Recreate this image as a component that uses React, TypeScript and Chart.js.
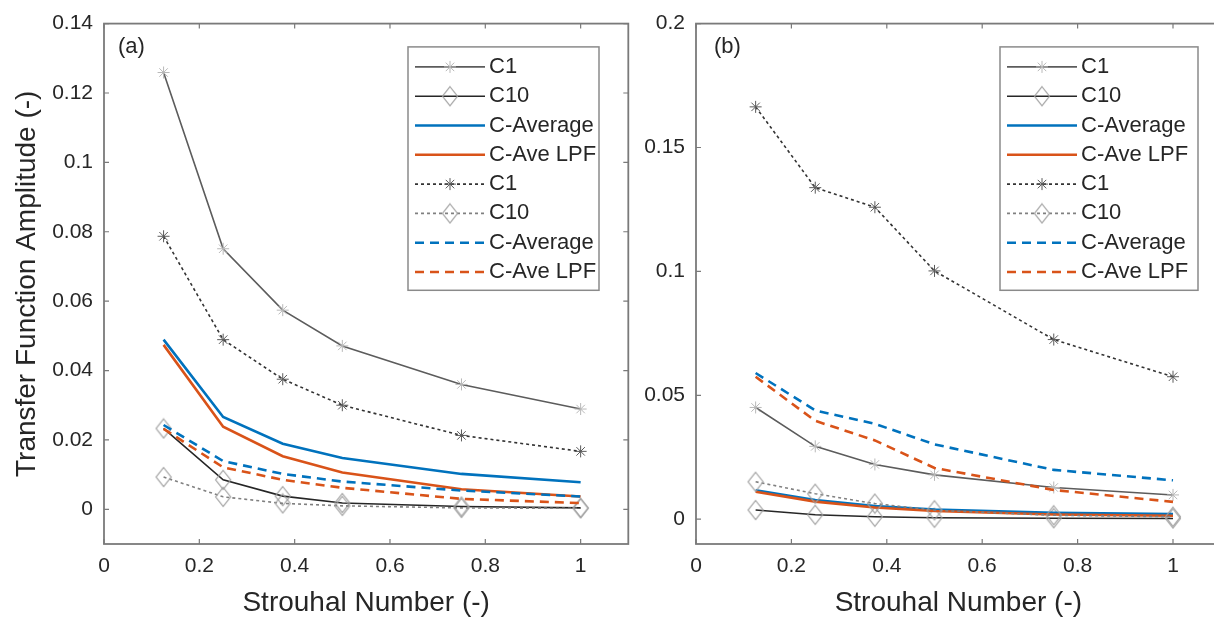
import React, { useEffect, useRef } from 'react';
import { Chart, registerables } from 'chart.js';

Chart.register(...registerables);

// ---------- data ----------
const strouhal = [0.125, 0.25, 0.375, 0.5, 0.75, 1.0];
const seriesLabels = ['C1', 'C10', 'C-Average', 'C-Ave LPF', 'C1', 'C10', 'C-Average', 'C-Ave LPF'];

const xTickValues = [0, 0.2, 0.4, 0.6, 0.8, 1];
const xTickLabels = ['0', '0.2', '0.4', '0.6', '0.8', '1'];
const yTickValuesA = [0, 0.02, 0.04, 0.06, 0.08, 0.1, 0.12, 0.14];
const yTickLabelsA = ['0', '0.02', '0.04', '0.06', '0.08', '0.1', '0.12', '0.14'];
const yTickValuesB = [0, 0.05, 0.1, 0.15, 0.2];
const yTickLabelsB = ['0', '0.05', '0.1', '0.15', '0.2'];

// panel (a)
const aC1Solid = [0.1259, 0.0751, 0.0574, 0.0471, 0.0360, 0.0289];
const aC10Solid = [0.0233, 0.0085, 0.0038, 0.0018, 0.0008, 0.0004];
const aAvgSolid = [0.0489, 0.0266, 0.0189, 0.0148, 0.0102, 0.0078];
const aLpfSolid = [0.0474, 0.0238, 0.0153, 0.0106, 0.0058, 0.0037];
const aC1Dot = [0.0787, 0.0489, 0.0375, 0.0300, 0.0213, 0.0167];
const aC10Dot = [0.0093, 0.0036, 0.0017, 0.0010, 0.0004, 0.0003];
const aAvgDash = [0.0243, 0.0139, 0.0102, 0.0080, 0.0054, 0.0037];
const aLpfDash = [0.0232, 0.0121, 0.0085, 0.0062, 0.0030, 0.0018];

// panel (b)
const bC1Solid = [0.0451, 0.0294, 0.0221, 0.0179, 0.0128, 0.0098];
const bC10Solid = [0.0037, 0.0018, 0.0010, 0.0006, 0.0004, 0.0003];
const bAvgSolid = [0.0117, 0.0077, 0.0053, 0.0039, 0.0026, 0.0021];
const bLpfSolid = [0.0111, 0.0071, 0.0047, 0.0033, 0.0019, 0.0014];
const bC1Dot = [0.1664, 0.1338, 0.1259, 0.1002, 0.0725, 0.0575];
const bC10Dot = [0.0151, 0.0103, 0.0063, 0.0036, 0.0016, 0.0010];
const bAvgDash = [0.0590, 0.0439, 0.0385, 0.0302, 0.0199, 0.0157];
const bLpfDash = [0.0575, 0.0397, 0.0318, 0.0207, 0.0118, 0.0070];

// ---------- styles ----------
const FONT = '"Liberation Sans", Arial, Helvetica, sans-serif';
const TEXT = '#262626';
const AXIS = '#7a7a7a';

type SeriesStyle = { color: string; width: number; dash: number[]; marker?: 'star' | 'diamond'; markerColor?: string };
const seriesStyles: SeriesStyle[] = [
  { color: '#5c5c5c', width: 1.6, dash: [], marker: 'star', markerColor: '#b8b8b8' },
  { color: '#262626', width: 1.6, dash: [], marker: 'diamond', markerColor: '#a5a5a5' },
  { color: '#0072BD', width: 2.6, dash: [] },
  { color: '#D95319', width: 2.6, dash: [] },
  { color: '#333333', width: 1.6, dash: [3, 3], marker: 'star', markerColor: '#5a5a5a' },
  { color: '#808080', width: 1.6, dash: [3, 3], marker: 'diamond', markerColor: '#a5a5a5' },
  { color: '#0072BD', width: 2.6, dash: [9, 6] },
  { color: '#D95319', width: 2.6, dash: [9, 6] },
];

function makeDiamond(color: string) {
  const c = document.createElement('canvas');
  c.width = 18;
  c.height = 22;
  const g = c.getContext('2d')!;
  g.strokeStyle = color;
  g.lineWidth = 1.2;
  g.beginPath();
  g.moveTo(9, 1.5);
  g.lineTo(16.5, 11);
  g.lineTo(9, 20.5);
  g.lineTo(1.5, 11);
  g.closePath();
  g.stroke();
  return c;
}

function drawStar(ctx: CanvasRenderingContext2D, x: number, y: number, r: number, color: string) {
  ctx.save();
  ctx.strokeStyle = color;
  ctx.lineWidth = 1;
  ctx.setLineDash([]);
  ctx.beginPath();
  for (let k = 0; k < 4; k++) {
    const a = (k * Math.PI) / 4;
    ctx.moveTo(x - Math.cos(a) * r, y - Math.sin(a) * r);
    ctx.lineTo(x + Math.cos(a) * r, y + Math.sin(a) * r);
  }
  ctx.stroke();
  ctx.restore();
}

const framePlugin = {
  id: 'matlabFrame',
  afterDatasetsDraw(chart: any, _args: any, opts: any) {
    const { ctx, chartArea: ca, scales } = chart;
    const xs = scales.x;
    const ys = scales.y;
    ctx.save();
    ctx.setLineDash([]);
    ctx.strokeStyle = AXIS;
    ctx.lineWidth = 1.8;
    ctx.strokeRect(ca.left, ca.top, ca.right - ca.left, ca.bottom - ca.top);
    const tl = 5;
    ctx.lineWidth = 1.2;
    ctx.beginPath();
    xs.ticks.forEach((t: any) => {
      const px = xs.getPixelForValue(t.value);
      ctx.moveTo(px, ca.bottom);
      ctx.lineTo(px, ca.bottom - tl);
      ctx.moveTo(px, ca.top);
      ctx.lineTo(px, ca.top + tl);
    });
    ys.ticks.forEach((t: any) => {
      const py = ys.getPixelForValue(t.value);
      ctx.moveTo(ca.left, py);
      ctx.lineTo(ca.left + tl, py);
      ctx.moveTo(ca.right, py);
      ctx.lineTo(ca.right - tl, py);
    });
    ctx.stroke();

    // panel label
    ctx.fillStyle = TEXT;
    ctx.font = `22px ${FONT}`;
    ctx.textBaseline = 'middle';
    ctx.textAlign = 'left';
    ctx.fillText(opts.panel, ca.left + opts.panelDx, ca.top + 23);

    // legend
    const lx = ca.left + 304;
    const ly = ca.top + 23.3;
    const lw = opts.legendWidth;
    const lh = 243.4;
    ctx.fillStyle = '#ffffff';
    ctx.fillRect(lx, ly, lw, lh);
    ctx.strokeStyle = '#8a8a8a';
    ctx.lineWidth = 1.5;
    ctx.strokeRect(lx, ly, lw, lh);
    chart.data.datasets.forEach((ds: any, i: number) => {
      const cy = ly + 20 + i * 29.3;
      ctx.strokeStyle = ds.borderColor;
      ctx.lineWidth = ds.borderWidth;
      ctx.setLineDash(ds.borderDash || []);
      ctx.beginPath();
      ctx.moveTo(lx + 7, cy);
      ctx.lineTo(lx + 77, cy);
      ctx.stroke();
      ctx.setLineDash([]);
      if (ds.pointStyle === 'star') {
        drawStar(ctx, lx + 42, cy, 6, ds.pointBorderColor);
      } else if (ds.pointStyle && typeof ds.pointStyle === 'object') {
        const im = ds.pointStyle as HTMLCanvasElement;
        ctx.drawImage(im, lx + 42 - im.width / 2, cy - im.height / 2);
      }
      ctx.fillStyle = TEXT;
      ctx.font = `22px ${FONT}`;
      ctx.textBaseline = 'middle';
      ctx.textAlign = 'left';
      ctx.fillText(ds.label, lx + 81, cy);
    });
    ctx.restore();
  },
};

type Panel = {
  series: number[][];
  yMax: number;
  yTicks: number[];
  yLabels: string[];
  yAxisWidth: number;
  rightPad: number;
  showYTitle: boolean;
  panel: string;
  panelDx: number;
  legendWidth: number;
};

const panelA: Panel = {
  series: [aC1Solid, aC10Solid, aAvgSolid, aLpfSolid, aC1Dot, aC10Dot, aAvgDash, aLpfDash],
  yMax: 0.14,
  yTicks: yTickValuesA,
  yLabels: yTickLabelsA,
  yAxisWidth: 104,
  rightPad: 11.7,
  showYTitle: true,
  panel: '(a)',
  panelDx: 14,
  legendWidth: 191,
};

const panelB: Panel = {
  series: [bC1Solid, bC10Solid, bAvgSolid, bLpfSolid, bC1Dot, bC10Dot, bAvgDash, bLpfDash],
  yMax: 0.2,
  yTicks: yTickValuesB,
  yLabels: yTickLabelsB,
  yAxisWidth: 60,
  rightPad: 15.3,
  showYTitle: false,
  panel: '(b)',
  panelDx: 18,
  legendWidth: 198,
};

function makeChart(canvas: HTMLCanvasElement, p: Panel, diamond: HTMLCanvasElement) {
  const datasets = p.series.map((vals, i) => {
    const s = seriesStyles[i];
    return {
      label: seriesLabels[i],
      data: strouhal.map((x, k) => ({ x, y: vals[k] })),
      borderColor: s.color,
      borderWidth: s.width,
      borderDash: s.dash,
      pointStyle: s.marker === 'diamond' ? diamond : s.marker === 'star' ? 'star' : 'circle',
      pointRadius: s.marker ? (s.marker === 'star' ? 6 : 9) : 0,
      pointBorderColor: s.markerColor || s.color,
      pointBackgroundColor: 'rgba(0,0,0,0)',
      pointBorderWidth: 1,
      fill: false,
      tension: 0,
      order: 8 - i,
    };
  });

  return new Chart(canvas, {
    type: 'line',
    data: { datasets: datasets as any },
    plugins: [framePlugin as any],
    options: {
      responsive: false,
      animation: false,
      devicePixelRatio: 1,
      events: [],
      layout: { padding: { left: 0, top: 20, right: p.rightPad, bottom: 0 } },
      plugins: {
        legend: { display: false },
        tooltip: { enabled: false },
        matlabFrame: { panel: p.panel, panelDx: p.panelDx, legendWidth: p.legendWidth },
      } as any,
      scales: {
        x: {
          type: 'linear',
          min: 0,
          max: 1.1,
          grid: { display: false, drawTicks: false },
          border: { display: false },
          afterBuildTicks: (scale: any) => {
            scale.ticks = xTickValues.map((v) => ({ value: v }));
          },
          afterFit: (scale: any) => {
            scale.height = 76;
          },
          ticks: {
            includeBounds: false,
            padding: 10,
            color: TEXT,
            font: { family: FONT, size: 21 },
            maxRotation: 0,
            callback: (_v: any, idx: number) => xTickLabels[idx],
          },
          title: {
            display: true,
            text: 'Strouhal Number (-)',
            color: TEXT,
            font: { family: FONT, size: 28 },
            padding: { top: 0, bottom: 0 },
          },
        },
        y: {
          type: 'linear',
          min: -0.01,
          max: p.yMax,
          grid: { display: false, drawTicks: false },
          border: { display: false },
          afterBuildTicks: (scale: any) => {
            scale.ticks = p.yTicks.map((v) => ({ value: v }));
          },
          afterFit: (scale: any) => {
            scale.width = p.yAxisWidth;
          },
          ticks: {
            includeBounds: false,
            padding: 11,
            color: TEXT,
            font: { family: FONT, size: 21 },
            callback: (_v: any, idx: number) => p.yLabels[idx],
          },
          title: {
            display: p.showYTitle,
            text: 'Transfer Function Amplitude (-)',
            color: TEXT,
            font: { family: FONT, size: 28 },
            padding: { top: 10, bottom: 0 },
          },
        },
      },
    } as any,
  });
}

export default function App() {
  const refA = useRef<HTMLCanvasElement>(null);
  const refB = useRef<HTMLCanvasElement>(null);

  useEffect(() => {
    const diamond = makeDiamond('#a0a0a0');
    const ca = makeChart(refA.current!, panelA, diamond);
    const cb = makeChart(refB.current!, panelB, diamond);
    return () => {
      ca.destroy();
      cb.destroy();
    };
  }, []);

  return (
    <div
      style={{
        position: 'fixed',
        left: 0,
        top: 0,
        width: 1214,
        height: 620,
        overflow: 'hidden',
        background: '#ffffff',
      }}
    >
      <canvas ref={refA} width={640} height={620} style={{ position: 'absolute', left: 0, top: 0 }} />
      <canvas ref={refB} width={600} height={620} style={{ position: 'absolute', left: 636, top: 0 }} />
    </div>
  );
}
